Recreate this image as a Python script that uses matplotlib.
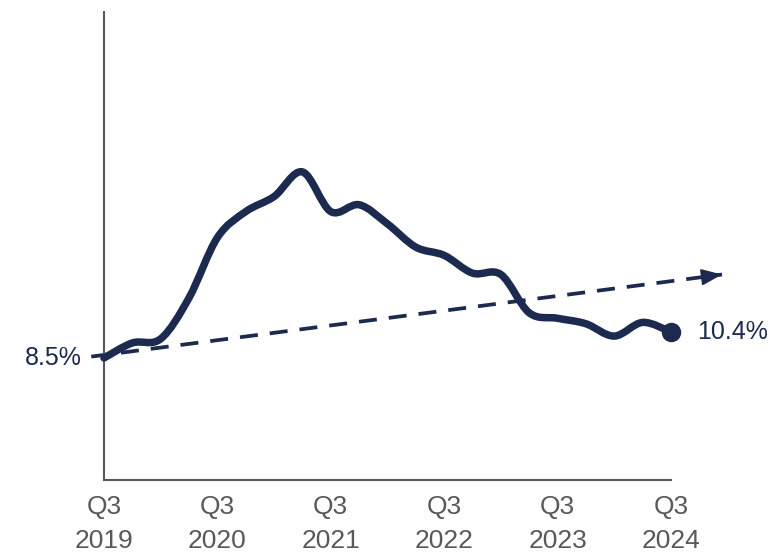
import matplotlib
matplotlib.use("Agg")
import matplotlib.pyplot as plt
import numpy as np
from matplotlib.path import Path
from matplotlib.patches import PathPatch, FancyArrowPatch

plt.rcParams['font.family'] = ['Liberation Sans', 'DejaVu Sans']

# ---- data (quarterly, Q3 2019 .. Q3 2024) ----
quarters = list(range(21))
values = [8.5, 9.6, 9.9, 12.9, 17.3, 19.2, 20.3, 22.1, 19.2, 19.7, 18.3,
          16.6, 16.0, 14.7, 14.6, 11.8, 11.4, 11.0, 10.1, 11.1, 10.4]
tick_pos = [0, 4, 8, 12, 16, 20]
tick_quarter = ['Q3'] * 6
tick_year = ['2019', '2020', '2021', '2022', '2023', '2024']
trend_x = [-0.45, 21.8]
trend_y = [8.6, 14.6]
start_label = '8.5%'
end_label = '10.4%'

NAVY = '#1b2a4e'
GRAY = '#595959'

fig = plt.figure(figsize=(7.74, 5.52), dpi=100)
ax = fig.add_axes([104 / 774, 1 - 480 / 552, 567 / 774, 468 / 552])
ax.set_xlim(0, 20)
ax.set_ylim(-0.42, 33.79)

# smoothed line (Bezier through the data points, Excel-style smoothing)
P = np.column_stack([quarters, values]).astype(float)
n = len(P)
verts = [tuple(P[0])]
codes = [Path.MOVETO]
for i in range(n - 1):
    p0 = P[i - 1] if i > 0 else P[i]
    p1 = P[i]
    p2 = P[i + 1]
    p3 = P[i + 2] if i + 2 < n else P[i + 1]
    c1 = p1 + (p2 - p0) / 6.0
    c2 = p2 - (p3 - p1) / 6.0
    verts += [tuple(c1), tuple(c2), tuple(p2)]
    codes += [Path.CURVE4] * 3
path = Path(verts, codes)
ax.add_patch(PathPatch(path, facecolor='none', edgecolor=NAVY, lw=5.4,
                       capstyle='round', joinstyle='round', zorder=3, clip_on=False))

# end dot
ax.plot([quarters[-1]], [values[-1]], 'o', color=NAVY, markersize=13,
        zorder=4, clip_on=False)

# dashed trend line with arrow head
ax.plot(trend_x, trend_y, color=NAVY, lw=2.7, linestyle=(0, (4.8, 3.2)),
        zorder=2, clip_on=False, solid_capstyle='butt', dash_capstyle='butt')
dx = trend_x[1] - trend_x[0]
dy = trend_y[1] - trend_y[0]
head_base = (trend_x[1] - 0.02 * dx, trend_y[1] - 0.02 * dy)
arr = FancyArrowPatch(head_base, (trend_x[1], trend_y[1]),
                      arrowstyle='-|>,head_length=12.5,head_width=5',
                      mutation_scale=1, color=NAVY, lw=1.5,
                      shrinkA=0, shrinkB=0, zorder=2, clip_on=False)
ax.add_patch(arr)

# labels
ax.annotate(start_label, xy=(0, values[0]), xytext=(-16, 0),
            textcoords='offset points', ha='right', va='center',
            fontsize=18, color=NAVY)
ax.annotate(end_label, xy=(quarters[-1], values[-1]), xytext=(18.5, 0),
            textcoords='offset points', ha='left', va='center',
            fontsize=18, color=NAVY)

# axes styling
for s in ['top', 'right']:
    ax.spines[s].set_visible(False)
for s in ['left', 'bottom']:
    ax.spines[s].set_color(GRAY)
    ax.spines[s].set_linewidth(1.5)
ax.set_yticks([])
ax.set_xticks(tick_pos)
ax.set_xticklabels([f'{q}\n{y}' for q, y in zip(tick_quarter, tick_year)],
                   fontsize=19, color=GRAY, linespacing=1.5)
ax.tick_params(axis='x', length=0, pad=11)

fig.savefig('out.png', dpi=100)
